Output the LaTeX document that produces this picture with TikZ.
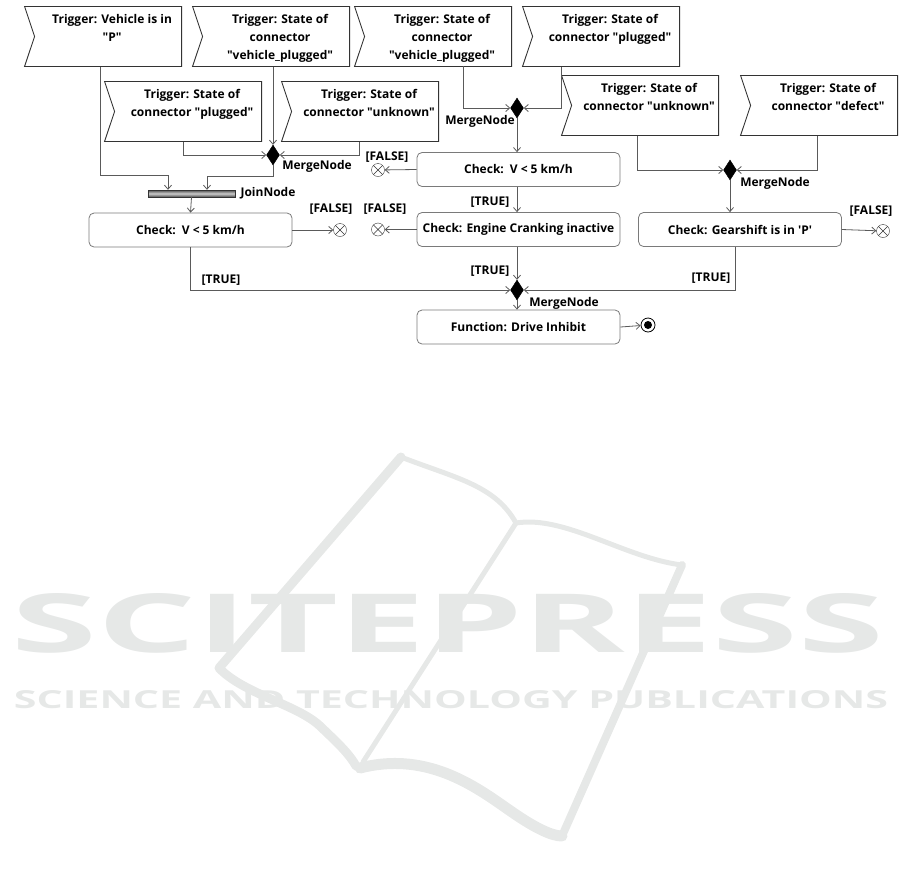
\documentclass[tikz,border=0pt]{standalone}
\usepackage{fontspec}
\usepackage{graphicx}
\setmainfont{Open Sans}
\usetikzlibrary{
  arrows.meta,
  positioning,
  calc,
  shapes.symbols,
  shapes.geometric
}
\newcommand\diagfont{\bfseries\fontsize{12pt}{18pt}\selectfont}
\newcommand\qt[1]{\textquotedbl#1\textquotedbl}
\definecolor{linegray}{HTML}{5A5A5A}
\definecolor{boxgray}{HTML}{7A7A7A}
\definecolor{wmgray}{HTML}{E6E8E7}
\tikzset{
  trigger/.style={
    signal, signal from=west, signal to=nowhere,
    signal pointer angle=143,
    draw=black!80, line width=0.9pt,
    minimum width=157pt, minimum height=60pt, inner sep=0pt,
    anchor=north east},
  trigtext/.style={font=\diagfont, align=center, inner sep=0pt},
  check/.style={
    rectangle, rounded corners=5pt, draw=boxgray, line width=0.8pt,
    minimum width=203pt, minimum height=34pt, font=\diagfont},
  merge/.style={
    diamond, fill=black, draw=black,
    minimum width=13pt, minimum height=20pt, inner sep=0pt},
  joinbar/.style={
    rectangle, draw=black!80, minimum width=87pt, minimum height=7pt,
    inner sep=0pt, top color=black!70, bottom color=black!70,
    middle color=black!20},
  flowfinal/.style={
    circle, draw=black!80, minimum size=13pt, inner sep=0pt,
    path picture={\draw[black!80]
      (path picture bounding box.north west) -- (path picture bounding box.south east)
      (path picture bounding box.north east) -- (path picture bounding box.south west);}},
  actfinal/.style={
    circle, draw=black, line width=0.8pt, minimum size=14pt, inner sep=0pt,
    path picture={\fill (path picture bounding box.center) circle (4pt);}},
  guard/.style={font=\diagfont, inner sep=0pt},
  link/.style={draw=linegray, line width=0.8pt},
  flow/.style={link, -{Straight Barb[length=4pt,width=7pt]}},
  wmline/.style={draw=wmgray, line cap=round, line join=round}
}

\begin{document}
\begin{tikzpicture}[x=1pt, y=-1pt]
  \useasboundingbox (0,0) rectangle (901,884);

  % watermark
  \draw[wmline, line width=9pt] (401,457) -- (219,668)
    .. controls (245,695) and (300,705) .. (322,728)
    .. controls (340,745) and (350,755) .. (356,766);
  \draw[wmline, line width=5pt] (401,457) .. controls (455,478) and (495,485) .. (516,523);
  \draw[wmline, line width=5pt] (516,523) .. controls (565,515) and (625,558) .. (682,565);
  \draw[wmline, line width=5pt] (516,523) -- (363,762);
  \draw[wmline, line width=8pt] (682,565) -- (562,836);
  \draw[wmline, line width=11pt] (360,768) .. controls (430,750) and (480,790) .. (512,812)
    .. controls (535,828) and (552,836) .. (562,836);
  \node[text=wmgray, inner sep=0pt] (wmTitle) at (448,623.5)
    {\resizebox{872pt}{59pt}{\textbf{SCITEPRESS}}};
  \node[text=wmgray, inner sep=0pt] (wmSub) at (451,700)
    {\resizebox{874pt}{18pt}{\textbf{SCIENCE AND TECHNOLOGY PUBLICATIONS}}};

  % triggers
  \node[trigger, label={[trigtext, anchor=north, xshift=4pt, yshift=-8pt]north:{Trigger: Vehicle is in\\\qt{P}}}]
    (trigVeh) at (182,6) {};
  \node[trigger, label={[trigtext, anchor=north, xshift=4pt, yshift=-8pt]north:{Trigger: State of\\connector\\\qt{vehicle\_plugged}}}]
    (trigVpA) at (350,6) {};
  \node[trigger, label={[trigtext, anchor=north, xshift=4pt, yshift=-8pt]north:{Trigger: State of\\connector\\\qt{vehicle\_plugged}}}]
    (trigVpB) at (512,6) {};
  \node[trigger, label={[trigtext, anchor=north, xshift=4pt, yshift=-8pt]north:{Trigger: State of\\connector \qt{plugged}}}]
    (trigPlugB) at (680,6) {};
  \node[trigger, label={[trigtext, anchor=north, xshift=4pt, yshift=-8pt]north:{Trigger: State of\\connector \qt{plugged}}}]
    (trigPlugA) at (262,81) {};
  \node[trigger, label={[trigtext, anchor=north, xshift=4pt, yshift=-8pt]north:{Trigger: State of\\connector \qt{unknown}}}]
    (trigUnkA) at (439,81) {};
  \node[trigger, label={[trigtext, anchor=north, xshift=4pt, yshift=-8pt]north:{Trigger: State of\\connector \qt{unknown}}}]
    (trigUnkB) at (719,75) {};
  \node[trigger, label={[trigtext, anchor=north, xshift=4pt, yshift=-8pt]north:{Trigger: State of\\connector \qt{defect}}}]
    (trigDef) at (898,75) {};

  % control nodes
  \node[merge] (mrgA) at (273,155) {};
  \node[merge] (mrgB) at (517,108) {};
  \node[merge] (mrgC) at (730,170) {};
  \node[merge] (mrgD) at (517,290) {};
  \node[joinbar] (join) at (191.5,193.5) {};
  \node[guard] (lblMrgA) at (317,166) {MergeNode};
  \node[guard] (lblMrgB) at (480,121) {MergeNode};
  \node[guard] (lblMrgC) at (775,183) {MergeNode};
  \node[guard] (lblMrgD) at (564,303) {MergeNode};
  \node[guard] (lblJoin) at (268,193) {JoinNode};

  % actions
  \node[check] (chkSpdL) at (190.5,230) {Check:\enspace V < 5 km/h};
  \node[check] (chkSpdM) at (518.5,169.5) {Check:\enspace V < 5 km/h};
  \node[check] (chkCrank) at (518.5,229.5) {Check: Engine Cranking inactive};
  \node[check] (chkGear) at (740,229.5) {Check: Gearshift is in \textquotesingle P\textquotesingle};
  \node[check] (fnInhibit) at (518.5,327) {Function: Drive Inhibit};

  % final nodes
  \node[flowfinal] (finL) at (340,230) {};
  \node[flowfinal] (finM) at (378,170) {};
  \node[flowfinal] (finC) at (378,229.5) {};
  \node[flowfinal] (finG) at (883,231) {};
  \node[actfinal] (finAct) at (648,325) {};

  % guards
  \node[guard] (gFalseL) at (331,209) {[FALSE]};
  \node[guard] (gFalseC) at (385,209) {[FALSE]};
  \node[guard] (gFalseM) at (387,157) {[FALSE]};
  \node[guard] (gFalseG) at (871,211) {[FALSE]};
  \node[guard] (gTrueL) at (221,280) {[TRUE]};
  \node[guard] (gTrueM) at (490,202) {[TRUE]};
  \node[guard] (gTrueC) at (490,271) {[TRUE]};
  \node[guard] (gTrueG) at (711,278) {[TRUE]};

  % left branch
  \draw[flow] (trigVeh.south -| 100,0) |- ([xshift=-23.5pt,yshift=14pt]join.north)
    -- ([xshift=-23.5pt]join.north);
  \draw[flow] (trigVpA.south -| mrgA) -- (mrgA.north);
  \draw[flow] (trigPlugA.south -| 183,0) |- (mrgA.west);
  \draw[flow] (trigUnkA.south -| 359,0) |- (mrgA.east);
  \draw[flow] (mrgA.south) -- ++(0,11) -| ([xshift=15.5pt]join.north);
  \draw[flow] (join.south) -- (chkSpdL.north);
  \draw[flow] (chkSpdL.east) -- (finL);
  \draw[flow] (chkSpdL.south) |- (mrgD.west);

  % middle branch
  \draw[flow] ([xshift=-49pt]trigVpB.south east) |- (mrgB.west);
  \draw[flow] ([xshift=39pt]trigPlugB.south west) |- (mrgB.east);
  \draw[flow] (mrgB.south) -- (mrgB |- chkSpdM.north);
  \draw[flow] (chkSpdM.west) -- (finM);
  \draw[flow] (mrgB |- chkSpdM.south) -- (mrgB |- chkCrank.north);
  \draw[flow] (chkCrank.west) -- (finC);
  \draw[flow] (mrgB |- chkCrank.south) -- (mrgD.north);

  % right branch
  \draw[flow] (trigUnkB.south -| 637,0) |- (mrgC.west);
  \draw[flow] (trigDef.south -| 817,0) |- (mrgC.east);
  \draw[flow] (mrgC.south) -- (mrgC |- chkGear.north);
  \draw[flow] (chkGear.east) -- (finG);
  \draw[flow] ([xshift=-5pt]chkGear.south) |- (mrgD.east);

  % function
  \draw[flow] (mrgD.south) -- (mrgD |- fnInhibit.north);
  \draw[flow] (fnInhibit.east) -- (finAct);
\end{tikzpicture}
\end{document}
